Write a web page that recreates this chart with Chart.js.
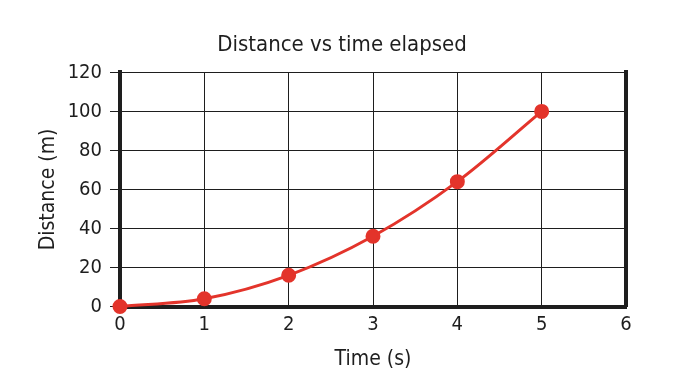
<!DOCTYPE html>
<html>
<head>
<meta charset="utf-8">
<script src="https://cdn.jsdelivr.net/npm/chart.js@4"></script>
<style>
  body { margin: 0; background: #fff; }
  #wrap { width: 684px; height: 376px; }
</style>
</head>
<body>
<div id="wrap"><canvas id="myChart"></canvas></div>
<script>
// values
const times = [0, 1, 2, 3, 4, 5];
const distances = [0, 4, 16, 36, 64, 100];

const lineColor = '#e3342b';
const axisColor = '#1e1e1e';
const fontFamily = "'Liberation Sans Narrow', 'DejaVu Sans Condensed', sans-serif";

const points = times.map((t, i) => ({ x: t, y: distances[i] }));

var ctx = document.getElementById('myChart').getContext('2d');
var config = {
  type: 'line',
  data: {
    datasets: [{
      label: 'Distance',
      data: points,
      borderColor: lineColor,
      backgroundColor: lineColor,
      borderWidth: 3,
      pointRadius: 6,
      pointHoverRadius: 6,
      fill: false,
      clip: false,
      cubicInterpolationMode: 'monotone'
    }]
  },
  options: {
    responsive: true,
    maintainAspectRatio: false,
    animation: false,
    events: [],
    layout: { padding: 0 },
    plugins: {
      legend: { display: false },
      tooltip: { enabled: false },
      title: {
        display: true,
        text: 'Distance vs time elapsed',
        color: axisColor,
        font: { family: fontFamily, size: 22, weight: 'normal' },
        padding: { top: 32, bottom: 14 }
      }
    },
    scales: {
      x: {
        type: 'linear',
        min: 0,
        max: 6,
        afterFit: s => { s.height = 69.5; },
        ticks: {
          stepSize: 1,
          color: axisColor,
          padding: 6,
          font: { family: fontFamily, size: 20 }
        },
        grid: { color: axisColor, lineWidth: 1, drawTicks: false },
        border: { color: axisColor, width: 4 },
        title: {
          display: true,
          text: 'Time (s)',
          color: axisColor,
          font: { family: fontFamily, size: 21 },
          padding: { top: 2 }
        }
      },
      y: {
        min: 0,
        max: 120,
        afterFit: s => { s.width = 120; },
        ticks: {
          stepSize: 20,
          color: axisColor,
          padding: 8,
          font: { family: fontFamily, size: 20 }
        },
        grid: { color: axisColor, lineWidth: 1, tickLength: 10 },
        border: { color: axisColor, width: 4 },
        title: {
          display: true,
          text: 'Distance (m)',
          color: axisColor,
          font: { family: fontFamily, size: 21 },
          padding: { top: 36, bottom: 0 }
        }
      },
      y2: {
        position: 'right',
        min: 0,
        max: 120,
        afterFit: s => { s.width = 58; },
        ticks: { display: false },
        grid: { display: false },
        border: { color: axisColor, width: 4 }
      }
    }
  }
};

var chart = new Chart(ctx, config);
</script>
</body>
</html>
